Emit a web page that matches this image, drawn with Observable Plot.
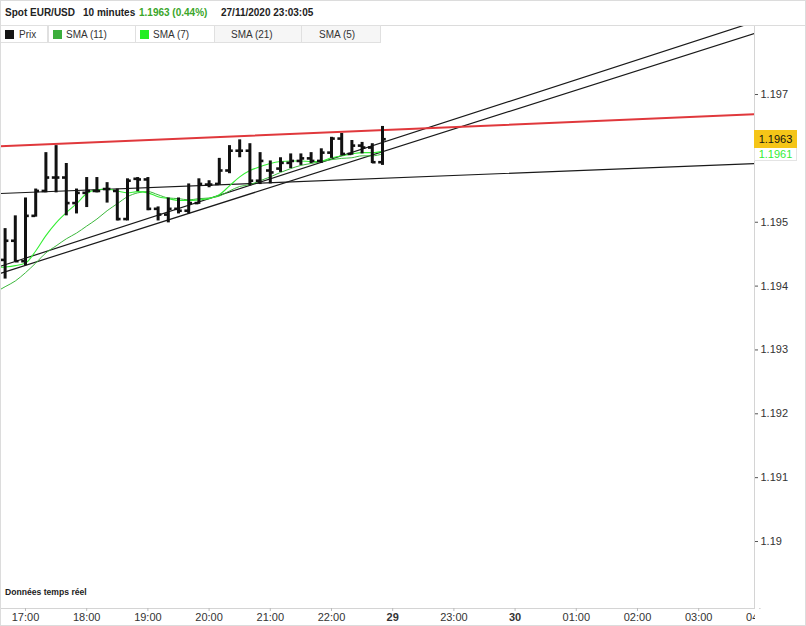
<!DOCTYPE html>
<html><head><meta charset="utf-8">
<script src="https://cdn.jsdelivr.net/npm/d3@7"></script>
<script src="https://cdn.jsdelivr.net/npm/@observablehq/plot@0.6"></script>
<style>
body{margin:0;background:#fff;font-family:"Liberation Sans",Arial,sans-serif;}
#wrap{position:relative;width:806px;height:626px;overflow:hidden;background:#fff;}
#chart{position:absolute;left:0;top:25px;}
#header{position:absolute;left:0;top:0;width:806px;height:26px;border-bottom:1px solid #dcdcdc;box-sizing:border-box;font-size:10px;font-weight:bold;color:#222;}
#header span{position:absolute;top:7px;white-space:nowrap;}
.cell{position:absolute;top:25px;height:18px;box-sizing:border-box;border:1px solid #e0e0e0;background:#fff;font-size:10px;color:#333;}
.cell .sw{position:absolute;left:4px;top:4px;width:9px;height:9px;}
.cell .lb{position:absolute;top:3px;white-space:nowrap;}
#note{position:absolute;left:5px;top:587px;font-size:8.6px;font-weight:bold;color:#222;}
#mask{position:absolute;left:755px;top:609px;width:51px;height:17px;background:#fff;}
#border{position:absolute;left:0;top:0;width:806px;height:626px;box-sizing:border-box;border:1px solid #dcdcdc;pointer-events:none;}
.plab{position:absolute;left:754px;width:43px;box-sizing:border-box;font-size:11px;text-align:center;}
</style></head>
<body><div id="wrap">
<div id="chart"></div>
<div id="header">
  <span style="left:5px">Spot EUR/USD</span>
  <span style="left:83px">10 minutes</span>
  <span style="left:139px;color:#3aa62a">1.1963 (0.44%)</span>
  <span style="left:221px">27/11/2020 23:03:05</span>
</div>
<div class="cell" style="left:0;width:48px"><div class="sw" style="background:#151515"></div><div class="lb" style="left:18px">Prix</div></div>
<div class="cell" style="left:48px;width:88px"><div class="sw" style="background:#3cae3c"></div><div class="lb" style="left:17px">SMA (11)</div></div>
<div class="cell" style="left:135px;width:80px"><div class="sw" style="background:#22ee22"></div><div class="lb" style="left:17px">SMA (7)</div></div>
<div class="cell" style="left:214px;width:88px;background:#f6f6f6"><div class="lb" style="left:16px">SMA (21)</div></div>
<div class="cell" style="left:301px;width:80px;background:#f6f6f6"><div class="lb" style="left:17px">SMA (5)</div></div>
<div id="note">Données temps réel</div>
<div id="mask"></div>
<div id="border"></div>
</div>
<script>
// ---- data ----
const times = ["16:40","16:50","17:00","17:10","17:20","17:30","17:40","17:50","18:00","18:10",
  "18:20","18:30","18:40","18:50","19:00","19:10","19:20","19:30","19:40","19:50",
  "20:00","20:10","20:20","20:30","20:40","20:50","21:00","21:10","21:20","21:30",
  "21:40","21:50","22:00","22:10","22:20","22:30","22:40","22:50"];
const opens  = [1.19441,1.19471,1.19439,1.19510,1.19549,1.19570,1.19570,1.19530,1.19546,1.19549,
  1.19552,1.19549,1.19505,1.19568,1.19567,1.19521,1.19512,1.19521,1.19518,1.19530,
  1.19559,1.19560,1.19581,1.19612,1.19612,1.19565,1.19581,1.19584,1.19593,1.19596,
  1.19600,1.19596,1.19609,1.19631,1.19607,1.19620,1.19617,1.19594];
const highs  = [1.19490,1.19510,1.19538,1.19552,1.19609,1.19620,1.19592,1.19552,1.19570,1.19570,
  1.19562,1.19552,1.19568,1.19570,1.19570,1.19524,1.19538,1.19538,1.19560,1.19568,
  1.19565,1.19600,1.19620,1.19629,1.19623,1.19609,1.19596,1.19601,1.19607,1.19607,
  1.19609,1.19615,1.19633,1.19639,1.19628,1.19625,1.19623,1.19650];
const lows   = [1.19411,1.19438,1.19432,1.19508,1.19546,1.19546,1.19510,1.19513,1.19523,1.19546,
  1.19530,1.19502,1.19502,1.19548,1.19518,1.19502,1.19499,1.19513,1.19513,1.19528,
  1.19554,1.19558,1.19576,1.19601,1.19557,1.19559,1.19560,1.19578,1.19584,1.19589,
  1.19592,1.19592,1.19600,1.19604,1.19605,1.19607,1.19592,1.19589];
const closes = [1.19471,1.19439,1.19510,1.19549,1.19570,1.19570,1.19530,1.19546,1.19549,1.19549,
  1.19552,1.19505,1.19565,1.19567,1.19521,1.19512,1.19521,1.19518,1.19530,1.19560,
  1.19559,1.19581,1.19612,1.19612,1.19565,1.19596,1.19578,1.19593,1.19596,1.19600,
  1.19596,1.19609,1.19631,1.19607,1.19620,1.19617,1.19594,1.19630];
const smaTimes = ["16:30", ...times];
const sma11 = [1.19390,1.19399,1.19408,1.19421,1.19436,1.19452,1.19463,1.19474,1.19483,1.19494,1.19505,
  1.19518,1.19529,1.19540,1.19546,1.19548,1.19543,1.19538,1.19537,1.19535,1.19537,
  1.19538,1.19541,1.19549,1.19556,1.19559,1.19565,1.19571,1.19578,1.19584,1.19589,
  1.19592,1.19595,1.19598,1.19600,1.19601,1.19604,1.19604,1.19607];
const sma7 = [1.19429,1.19430,1.19432,1.19436,1.19455,1.19479,1.19499,1.19515,1.19529,1.19545,1.19551,
  1.19552,1.19549,1.19546,1.19548,1.19546,1.19540,1.19537,1.19534,1.19534,1.19535,
  1.19537,1.19543,1.19557,1.19571,1.19581,1.19587,1.19592,1.19595,1.19596,1.19596,
  1.19595,1.19596,1.19601,1.19604,1.19607,1.19609,1.19609,1.19611];
// trend lines: [hour index start, hour index end], [price start, price end]
const lineSpan = [-0.41, 11.92];
const redLine = [1.19619, 1.19669];
const flatLine = [1.19545, 1.19592];
const upLineA = [1.19431, 1.19814];
const upLineB = [1.19420, 1.19796];
const tickLabels = ["17:00","18:00","19:00","20:00","21:00","22:00","29","23:00","30","01:00","02:00","03:00","04:00"];
const boldLabels = ["29","30"];
const yTicks = [1.197,1.195,1.194,1.193,1.192,1.191,1.19];
const lastPrice = 1.1963, lastSma7 = 1.1961;

// ---- build ----
const hourIndex = t => { const [H, M] = t.split(":").map(Number); return H + M / 60 - 17; };
const bars = times.map((t, i) => ({h: hourIndex(t), o: opens[i], hi: highs[i], lo: lows[i], c: closes[i]}));
const smaData = smaTimes.map((t, i) => ({h: hourIndex(t), s11: sma11[i], s7: sma7[i]}));
const seg = (ys, name) => lineSpan.map((h, i) => ({h, p: ys[i], name}));
const trend = [...seg(upLineA, "a"), ...seg(upLineB, "b"), ...seg(flatLine, "f")];
const tk = 0.062; // tick length in hours
const tickIdx = tickLabels.map((_, i) => i);

const plot = Plot.plot({
  width: 806, height: 601,
  marginLeft: 0, marginRight: 52, marginTop: 0, marginBottom: 18,
  style: {fontFamily: '"Liberation Sans", Arial, sans-serif', fontSize: "11px", color: "#333", background: "transparent"},
  x: {domain: [-0.4085, 11.912], axis: null},
  y: {domain: [1.188951, 1.198081], axis: null},
  marks: [
    Plot.frame({stroke: "#d4d4d4"}),
    Plot.line(trend, {x: "h", y: "p", z: "name", stroke: "#1a1a1a", strokeWidth: 1.2, clip: true}),
    Plot.line(seg(redLine, "r"), {x: "h", y: "p", stroke: "#e0383c", strokeWidth: 2, clip: true}),
    Plot.line(smaData, {x: "h", y: "s11", stroke: "#3cb83c", strokeWidth: 1, clip: true, curve: "monotone-x"}),
    Plot.line(smaData, {x: "h", y: "s7", stroke: "#33ee33", strokeWidth: 1.1, clip: true, curve: "monotone-x"}),
    Plot.ruleX(bars, {x: "h", y1: "lo", y2: "hi", stroke: "#111", strokeWidth: 3}),
    Plot.ruleY(bars, {x1: d => d.h - tk, x2: "h", y: "o", stroke: "#111", strokeWidth: 2.6}),
    Plot.ruleY(bars, {x1: "h", x2: d => d.h + tk, y: "c", stroke: "#111", strokeWidth: 2.6}),
    Plot.axisX({ticks: tickIdx.filter(i => !boldLabels.includes(tickLabels[i])), tickFormat: i => tickLabels[i], tickSize: 3, tickPadding: 2, label: null, stroke: "#bbb", color: "#333"}),
    Plot.axisX({ticks: tickIdx.filter(i => boldLabels.includes(tickLabels[i])), tickFormat: i => tickLabels[i], tickSize: 3, tickPadding: 2, label: null, fontWeight: "bold", stroke: "#bbb", color: "#333"}),
    Plot.axisY({anchor: "right", ticks: yTicks, tickFormat: d => `${d}`, tickSize: 3, tickPadding: 3, label: null, textAnchor: "start", stroke: "#555"})
  ]
});
document.getElementById("chart").appendChild(plot);

// price labels positioned through the y scale
const ys = plot.scale("y");
const wrap = document.getElementById("wrap");
const yPrice = ys.apply(lastPrice) + 25;
const box = document.createElement("div");
box.className = "plab";
box.textContent = String(lastPrice);
Object.assign(box.style, {top: (yPrice - 9) + "px", height: "18px", lineHeight: "18px", background: "#f5c518", color: "#111"});
wrap.insertBefore(box, document.getElementById("border"));
const g = document.createElement("div");
g.className = "plab";
g.textContent = String(lastSma7);
Object.assign(g.style, {top: (yPrice + 9) + "px", height: "13px", lineHeight: "12px", background: "#fff", color: "#33ee33", border: "1px solid #e4e4e4", borderTop: "none"});
wrap.insertBefore(g, document.getElementById("border"));
</script>
</body></html>
